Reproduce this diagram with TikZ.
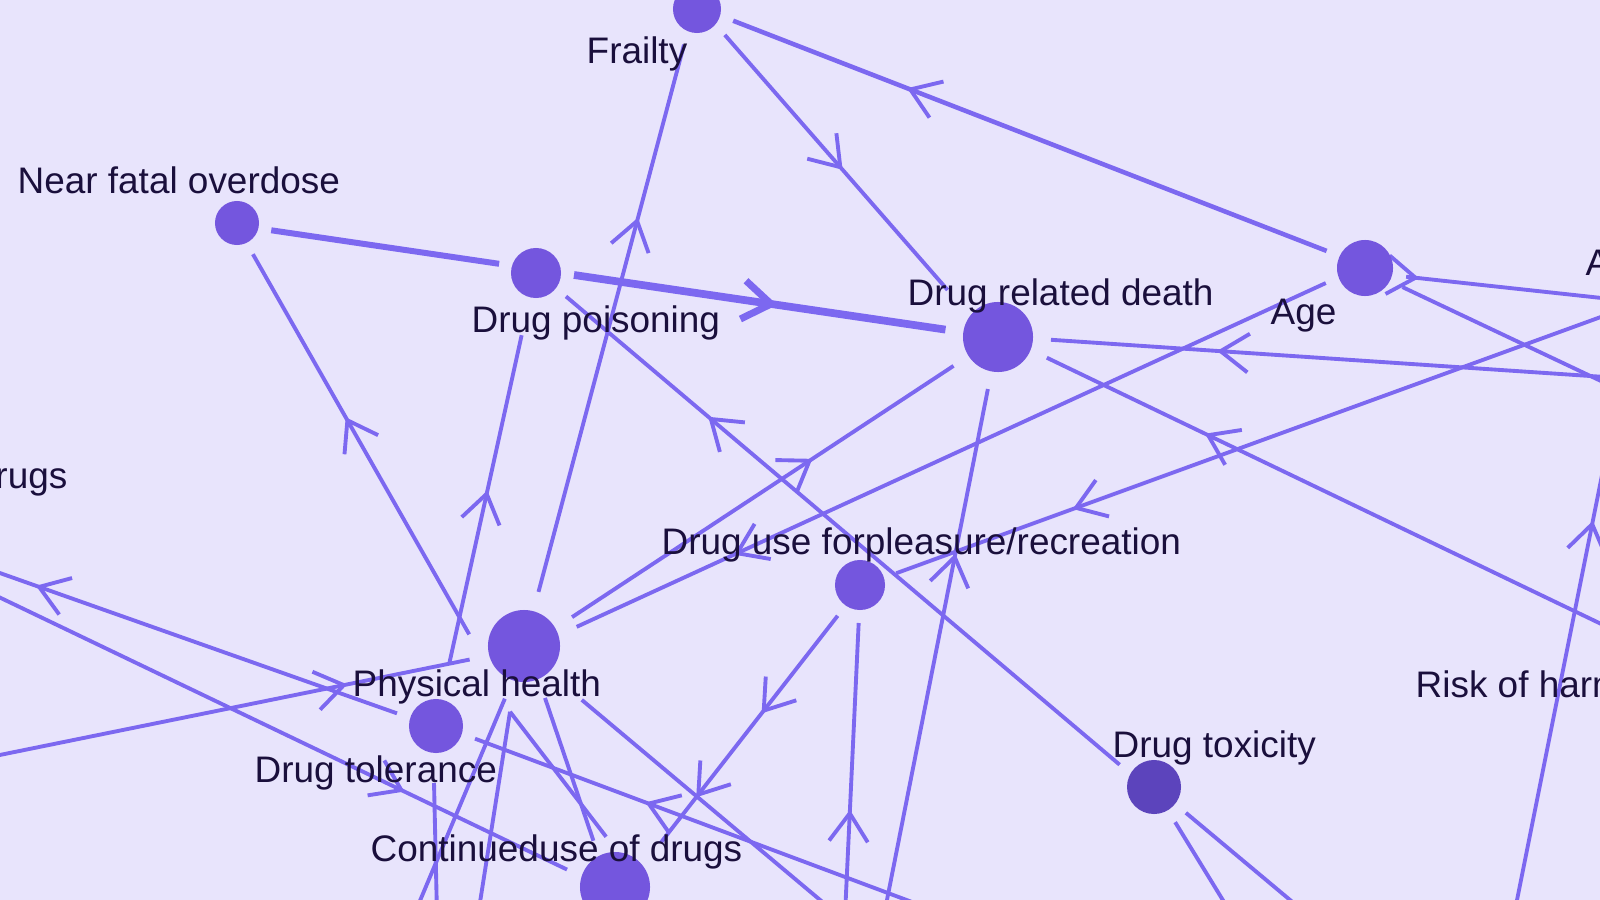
\documentclass[tikz,border=0pt]{standalone}
\usepackage{fontspec}
\setmainfont{Liberation Sans}
\usetikzlibrary{calc,arrows.meta,decorations.markings}
\definecolor{bgc}{HTML}{E8E4FC}
\definecolor{edgec}{HTML}{7C68F0}
\definecolor{nodec}{HTML}{7456DE}
\definecolor{toxc}{HTML}{5C44BC}
\definecolor{txtc}{HTML}{1A0F3C}
\pgfdeclarelayer{bglayer}
\pgfdeclarelayer{edgelayer}
\pgfsetlayers{bglayer,edgelayer,main}
\tikzset{
  vtx/.style={circle, fill=nodec, inner sep=0pt, minimum size=#1},
  lbl/.style={text=txtc, font=\fontsize{10.5}{12}\selectfont, inner sep=0pt},
  edge/.style={draw=edgec, line width=1.1pt},
  midarr/.style={postaction={decorate}, decoration={markings, mark=at position #1 with {\arrow{Straight Barb[length=8pt,width=11pt,line width=1.1pt]}}}},
  twoarr/.style 2 args={postaction={decorate}, decoration={markings, mark=at position #1 with {\arrow{Straight Barb[length=8pt,width=11pt,line width=1.1pt]}}, mark=at position #2 with {\arrow{Straight Barb[length=8pt,width=11pt,line width=1.1pt]}}}},
  thickarr/.style={postaction={decorate}, decoration={markings, mark=at position #1 with {\arrow{Straight Barb[length=8pt,width=11pt,line width=2pt]}}}},
}
\begin{document}
\begin{tikzpicture}[x=0.01cm,y=-0.01cm]
\useasboundingbox (0,0) rectangle (1600,900);
\begin{pgfonlayer}{bglayer}
\fill[bgc] (0,0) rectangle (1600,900);
\end{pgfonlayer}
\clip (0,0) rectangle (1600,900);
% nodes
\node[vtx=0.48cm, outer sep=0.14cm] (fr) at (697,9) {};
\node[vtx=0.44cm, outer sep=0.13cm] (nfo) at (237,223) {};
\node[vtx=0.50cm, outer sep=0.13cm] (dp) at (536,273) {};
\node[vtx=0.70cm, outer sep=0.18cm] (drd) at (998,337) {};
\node[vtx=0.56cm, outer sep=0.14cm] (age) at (1365,268) {};
\node[vtx=0.50cm, outer sep=0.13cm] (du) at (860,585) {};
\node[vtx=0.72cm, outer sep=0.20cm] (ph) at (524,646) {};
\node[vtx=0.54cm, outer sep=0.14cm] (dt) at (436,726) {};
\node[vtx=0.70cm, outer sep=0.16cm] (cu) at (615,887) {};
\node[vtx=0.54cm, outer sep=0.14cm, fill=toxc] (tox) at (1154,787) {};
% off-canvas ends
\coordinate (b1) at (884,915);
\coordinate (b2) at (845,915);
\coordinate (r1) at (1620,378);
\coordinate (r2) at (1620,633);
\coordinate (r3) at (1620,300);
\coordinate (r4) at (1620,390);
\coordinate (r5) at (1620,310);
\coordinate (b3) at (1515,910);
\coordinate (r6) at (1605,460);
\coordinate (l1) at (-20,566);
\coordinate (l2) at (-20,588);
\coordinate (l3) at (-20,759);
\coordinate (b4) at (920,905);
\coordinate (b5) at (414,915);
\coordinate (b6) at (478,915);
\coordinate (b7) at (838,915);
\coordinate (b8) at (437,915);
\coordinate (b9) at (1232,915);
\coordinate (b10) at (1308,915);
% edges
\begin{pgfonlayer}{edgelayer}
\draw[edge, line width=1.3pt, midarr=0.707] (age.156) -- (fr.-18);
\draw[edge, midarr=0.53] (fr.-43) -- ($(drd.center)!1.3!(drd.137)$);
\draw[edge, midarr=0.684] (ph.75) -- (fr.250);
\draw[edge, line width=1.7pt] (nfo.-12) -- (dp.166);
\draw[edge, midarr=0.571] (ph.168) -- (nfo.-63);
\draw[edge, line width=2.2pt, thickarr=0.547] (dp.-3) -- (drd.172);
\draw[edge, midarr=0.527] ($(dt.center)!1.56!(dt.78)$) -- ($(dp.center)!1.68!(dp.257)$);
\draw[edge, midarr=0.743] (tox.147) -- (dp.-38);
\draw[edge, midarr=0.63] (ph.31) -- (drd.213);
\draw[edge, midarr=0.79] (age.201) -- (ph.20);
\draw[edge, midarr=0.687] (b1) -- (drd.259);
\draw[edge, midarr=0.708] (r1) -- (drd.-3);
\draw[edge, midarr=0.724] (r2) -- (drd.-23);
\draw[edge, midarr=0.06] (age.-12) -- (r3);
\draw[edge] (age.-27) -- (r4);
\draw[edge, midarr=0.756] (r5) -- (du.18);
\draw[edge, midarr=0.865] (b3) -- (r6);
\draw[edge, twoarr={0.43}{0.8}] (du.234) -- ($(cu.center)!1.24!(cu.44)$);
\draw[edge, midarr=0.36] (b2) -- (du.268);
\draw[edge, midarr=0.866] (dt.162) -- (l1);
\draw[edge, midarr=0.723] (l2) -- (cu.160);
\draw[edge, midarr=0.75] (l3) -- (ph.194);
\draw[edge, midarr=0.617] (b4) -- (dt.-18);
\draw[edge] ($(dt.center)!1.39!(dt.268)$) -- (b8);
\draw[edge] (ph.250) -- (b5);
\draw[edge] ($(ph.center)!1.2!(ph.258)$) -- (b6);
\draw[edge] ($(ph.center)!1.2!(ph.258)$) -- (cu.100);
\draw[edge] (ph.292) -- (cu.115);
\draw[edge] ($(ph.center)!1.41!(ph.317)$) -- (b7);
\draw[edge] (tox.-59) -- (b9);
\draw[edge] (tox.-39) -- (b10);
\end{pgfonlayer}
% labels
\node[lbl, anchor=base west] (frl) at (586,63) {Frailty};
\node[lbl, anchor=base west] (nfol) at (17,193) {Near fatal overdose};
\node[lbl, anchor=base west] (dpl) at (471,332) {Drug poisoning};
\node[lbl, anchor=base west] (drdl) at (907,305) {Drug related death};
\node[lbl, anchor=base west] (agel) at (1270,324) {Age};
\node[lbl, anchor=base west] (al) at (1585,275) {A};
\node[lbl, anchor=base east] (rugl) at (68,488) {rugs};
\node[lbl, anchor=base west] (dul) at (661,554) {Drug use forpleasure/recreation};
\node[lbl, anchor=base west] (phl) at (352,696) {Physical health};
\node[lbl, anchor=base west] (dtl) at (254,782) {Drug tolerance};
\node[lbl, anchor=base west] (cul) at (370,861) {Continueduse of drugs};
\node[lbl, anchor=base west] (toxl) at (1112,757) {Drug toxicity};
\node[lbl, anchor=base west] (riskl) at (1415,697) {Risk of harm};
\end{tikzpicture}
\end{document}
